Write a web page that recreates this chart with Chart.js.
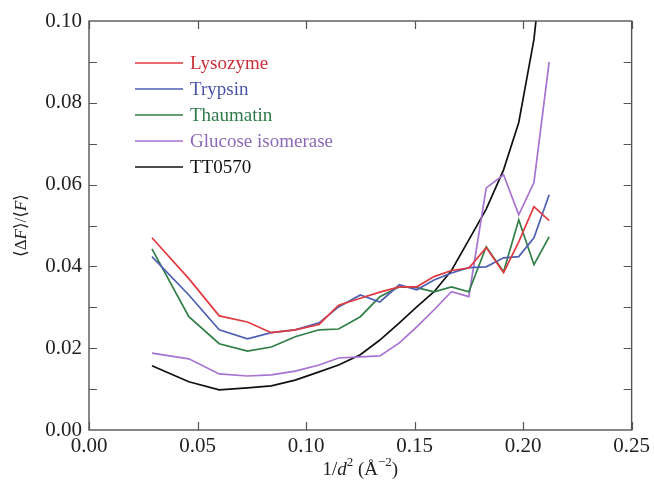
<!DOCTYPE html>
<html>
<head>
<meta charset="utf-8">
<script src="https://cdn.jsdelivr.net/npm/chart.js@4"></script>
<style>
html, body { margin: 0; padding: 0; background: #fff; }
#wrap { width: 654px; height: 486px; }
</style>
</head>
<body>
<div id="wrap"><canvas id="grafico"></canvas></div>
<script>
// 1/d^2 bin centres (A^-2)
const invD2 = [0.029, 0.046, 0.060, 0.073, 0.084, 0.095, 0.106, 0.115, 0.125, 0.134,
               0.143, 0.151, 0.159, 0.167, 0.175, 0.183, 0.191, 0.198, 0.205, 0.212];

const lysozyme = [0.0470, 0.0370, 0.0279, 0.0264, 0.0238, 0.0245, 0.0258, 0.0305, 0.0322, 0.0337,
                  0.0350, 0.0350, 0.0375, 0.0390, 0.0396, 0.0446, 0.0385, 0.0460, 0.0546, 0.0512];
const trypsin  = [0.0424, 0.0330, 0.0245, 0.0223, 0.0238, 0.0245, 0.0262, 0.0301, 0.0330, 0.0313,
                  0.0355, 0.0343, 0.0367, 0.0384, 0.0397, 0.0399, 0.0421, 0.0424, 0.0470, 0.0575];
const thaumatin = [0.0443, 0.0277, 0.0211, 0.0193, 0.0203, 0.0228, 0.0245, 0.0247, 0.0277, 0.0326,
                   0.0350, 0.0348, 0.0338, 0.0350, 0.0338, 0.0448, 0.0387, 0.0514, 0.0404, 0.0472];
const glucoseIso = [0.0188, 0.0174, 0.0137, 0.0132, 0.0135, 0.0144, 0.0159, 0.0176, 0.0179, 0.0181,
                    0.0213, 0.0252, 0.0294, 0.0338, 0.0326, 0.0592, 0.0624, 0.0526, 0.0605, 0.0900];
const tt0570 = [0.0157, 0.0118, 0.0098, 0.0103, 0.0108, 0.0122, 0.0142, 0.0159, 0.0184, 0.0220,
                0.0262, 0.0301, 0.0338, 0.0390, 0.0465, 0.0540, 0.0636, 0.0752, 0.0955, 0.1300];

const seriesNames = ['Lysozyme', 'Trypsin', 'Thaumatin', 'Glucose isomerase', 'TT0570'];
const seriesData = [lysozyme, trypsin, thaumatin, glucoseIso, tt0570];
const lineColors = ['#e13a40', '#4f5fb3', '#2f7f47', '#a772d0', '#111111'];
const textColors = ['#c92f38', '#4a54a6', '#2d7a48', '#8d6ab8', '#111111'];

const xTicks = [0, 0.05, 0.10, 0.15, 0.20, 0.25];
const yTicks = [0, 0.02, 0.04, 0.06, 0.08, 0.10];

const serif = "'Liberation Serif', 'DejaVu Serif', serif";
const axisColor = '#555';

// frame with inward ticks on all four sides
const frame = {
    id: 'frame',
    afterDatasetsDraw(chart) {
        const { ctx, chartArea: a, scales } = chart;
        ctx.save();
        ctx.strokeStyle = axisColor;
        ctx.lineWidth = 1.4;
        ctx.strokeRect(a.left, a.top, a.right - a.left, a.bottom - a.top);
        ctx.lineWidth = 1.2;
        const len = 8;
        ctx.beginPath();
        xTicks.forEach(v => {
            const px = Math.round(scales.x.getPixelForValue(v)) + 0.5;
            ctx.moveTo(px, a.bottom); ctx.lineTo(px, a.bottom - len);
            ctx.moveTo(px, a.top); ctx.lineTo(px, a.top + len);
        });
        for (let i = 1; i < 10; i++) {
            const py = Math.round(scales.y.getPixelForValue(i * 0.01)) + 0.5;
            ctx.moveTo(a.left, py); ctx.lineTo(a.left + len, py);
            ctx.moveTo(a.right, py); ctx.lineTo(a.right - len, py);
        }
        ctx.stroke();
        ctx.restore();
    }
};

// draws a run of text pieces: [text, italic, superscript]
function drawPieces(ctx, pieces, size, x, y) {
    let w = 0;
    const fontFor = p => (p[1] ? 'italic ' : '') + (p[2] ? Math.round(size * 0.68) : size) + 'px ' + serif;
    pieces.forEach(p => { ctx.font = fontFor(p); w += ctx.measureText(p[0]).width; });
    let cx = x - w / 2;
    pieces.forEach(p => {
        ctx.font = fontFor(p);
        ctx.fillText(p[0], cx, p[2] ? y - size * 0.38 : y);
        cx += ctx.measureText(p[0]).width;
    });
}

const extras = {
    id: 'extras',
    afterDraw(chart) {
        const { ctx, chartArea: a } = chart;
        ctx.save();
        ctx.textBaseline = 'middle';
        ctx.textAlign = 'left';
        // legend
        seriesNames.forEach((name, i) => {
            const y = a.top + 42 + i * 26;
            ctx.strokeStyle = lineColors[i];
            ctx.lineWidth = 1.7;
            ctx.beginPath();
            ctx.moveTo(a.left + 46, y); ctx.lineTo(a.left + 94, y);
            ctx.stroke();
            ctx.fillStyle = textColors[i];
            ctx.font = '19px ' + serif;
            ctx.fillText(name, a.left + 101, y + 1);
        });
        // axis titles
        ctx.fillStyle = '#222';
        drawPieces(ctx, [['1/', false, false], ['d', true, false], ['2', false, true],
                         [' (\u00C5', false, false], ['\u22122', false, true], [')', false, false]],
                   19, (a.left + a.right) / 2, 470);
        ctx.translate(22, (a.top + a.bottom) / 2);
        ctx.rotate(-Math.PI / 2);
        drawPieces(ctx, [['\u27E8\u0394', false, false], ['F', true, false], ['\u27E9/\u27E8', false, false],
                         ['F', true, false], ['\u27E9', false, false]], 17, 0, 0);
        ctx.restore();
    }
};

const ctx = document.getElementById('grafico').getContext('2d');
const grafico = new Chart(ctx, {
    type: 'line',
    data: {
        datasets: seriesNames.map((name, i) => ({
            label: name,
            data: invD2.map((x, j) => ({ x: x, y: seriesData[i][j] })),
            borderColor: lineColors[i],
            backgroundColor: lineColors[i],
            borderWidth: 1.7,
            pointRadius: 0,
            tension: 0,
            fill: false
        }))
    },
    options: {
        responsive: true,
        maintainAspectRatio: false,
        animation: false,
        layout: { padding: { top: 21, right: 20, left: 0, bottom: 0 } },
        plugins: {
            legend: { display: false },
            tooltip: { enabled: false }
        },
        scales: {
            x: {
                type: 'linear',
                min: 0,
                max: 0.25,
                afterBuildTicks: s => { s.ticks = xTicks.map(v => ({ value: v })); },
                afterFit: s => { s.height = 56; },
                grid: { display: false, drawTicks: false },
                border: { display: false },
                ticks: {
                    padding: 4,
                    color: '#222',
                    font: { family: serif, size: 21 },
                    callback: v => v.toFixed(2),
                    maxRotation: 0
                }
            },
            y: {
                min: 0,
                max: 0.1,
                afterBuildTicks: s => { s.ticks = yTicks.map(v => ({ value: v })); },
                afterFit: s => { s.width = 89; },
                grid: { display: false, drawTicks: false },
                border: { display: false },
                ticks: {
                    padding: 7,
                    color: '#222',
                    font: { family: serif, size: 21 },
                    callback: v => v.toFixed(2)
                }
            }
        }
    },
    plugins: [frame, extras]
});
</script>
</body>
</html>
